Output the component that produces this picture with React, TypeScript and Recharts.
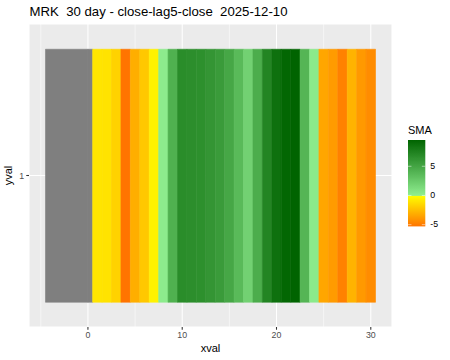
import { BarChart, Bar, XAxis, YAxis, CartesianGrid } from 'recharts'

// tiles: x positions and their SMA value (close - lag5 close)
const xval = [1, 2, 3, 4, 5, 6, 7, 8, 9, 10, 11, 12, 13, 14, 15, 16, 17, 18, 19, 20, 21, 22, 23, 24, 25, 26, 27, 28, 29, 30]
const sma = [-1.0, -1.05, -1.7, -5.3, -3.1, -2.1, -0.5, 0.2, 4.2, 6.7, 6.6, 6.5, 6.1, 5.7, 4.9, 3.6, 2.0, 4.5, 7.2, 8.6, 9.3, 9.5, 3.9, 0.3, -3.4, -3.8, -4.8, -2.9, -3.9, -4.4]
// days with no SMA yet (drawn grey)
const naX = [-4, -3, -2, -1, 0]

const xTicks = [0, 10, 20, 30]
const xMinor = [-5, 5, 15, 25]
const legendTicks = [5, 0, -5]

const FONT = '"Liberation Sans", Arial, sans-serif'
const NA_GREY = '#7F7F7F'

const smaMin = Math.min(...sma)
const smaMax = Math.max(...sma)

const LOW = [255, 116, 0]
const YELLOW = [255, 255, 0]
const LIGHTGREEN = [144, 238, 144]
const DARKGREEN = [0, 100, 0]

function mix(a: number[], b: number[], t: number) {
  const c = a.map((v, i) => Math.round(v + (b[i] - v) * t))
  return `rgb(${c[0]},${c[1]},${c[2]})`
}

function smaColor(v: number) {
  if (v < 0) return mix(YELLOW, LOW, Math.min(1, v / smaMin))
  return mix(LIGHTGREEN, DARKGREEN, Math.min(1, v / smaMax))
}

// one row, stacked tiles of width 1 (grey block split around zero)
const row: Record<string, number | string> = {
  y: '1',
  naNeg: Math.min(...naX) - 0.5,
  naPos: Math.max(...naX) + 0.5,
}
xval.forEach((x) => {
  row[`t${x}`] = 1
})
const chartData = [row]

const xLo = Math.min(...naX) - 0.5
const xHi = Math.max(...xval) + 0.5
const xPad = (xHi - xLo) * 0.05
const xDomain: [number, number] = [xLo - xPad, xHi + xPad]

// minor grid positions, mapped through the x axis domain onto the plot area
function minorLines({ xAxis, offset }: any) {
  const s = xAxis?.scale
  if (typeof s === 'function') return xMinor.map((v) => s(v))
  if (s && typeof s.map === 'function') return xMinor.map((v) => s.map(v))
  return xMinor.map((v) => offset.left + ((v - xDomain[0]) / (xDomain[1] - xDomain[0])) * offset.width)
}

function ColorBar() {
  const top = 140
  const h = 86.4
  const left = 408
  const w = 17.3
  const toY = (v: number) => top + ((smaMax - v) / (smaMax - smaMin)) * h
  const stops = []
  for (let i = 0; i <= 120; i++) {
    const v = smaMax - (i / 120) * (smaMax - smaMin)
    stops.push(<stop key={i} offset={i / 120} stopColor={smaColor(v)} />)
  }
  return (
    <g>
      <defs>
        <linearGradient id="smaGrad" x1="0" y1="0" x2="0" y2="1">
          {stops}
        </linearGradient>
      </defs>
      <text x={left} y={134} fontSize={11} fontFamily={FONT} fill="#000">
        SMA
      </text>
      <rect x={left} y={top} width={w} height={h} fill="url(#smaGrad)" />
      {legendTicks.map((t) => (
        <g key={t}>
          <line x1={left} x2={left + w / 5} y1={toY(t)} y2={toY(t)} stroke="#fff" strokeWidth={0.5} />
          <line x1={left + w - w / 5} x2={left + w} y1={toY(t)} y2={toY(t)} stroke="#fff" strokeWidth={0.5} />
          <text x={left + w + 5} y={toY(t)} dy="0.32em" fontSize={8.8} fontFamily={FONT} fill="#000">
            {t}
          </text>
        </g>
      ))}
    </g>
  )
}

export default function App() {
  return (
    <div style={{ position: 'absolute', left: 0, top: 0, width: 450, height: 360, background: '#fff' }}>
      <BarChart
        width={450}
        height={360}
        data={chartData}
        layout="vertical"
        stackOffset="sign"
        barCategoryGap="8.33%"
        margin={{ top: 24, right: 58, bottom: 0, left: 0 }}
      >
        <CartesianGrid fill="#EBEBEB" fillOpacity={1} stroke="#fff" strokeWidth={1.07} />
        <CartesianGrid
          horizontal={false}
          stroke="#fff"
          strokeWidth={0.53}
          verticalCoordinatesGenerator={minorLines}
        />
        <XAxis
          type="number"
          domain={xDomain}
          allowDataOverflow
          ticks={xTicks}
          interval={0}
          height={33}
          axisLine={false}
          tickSize={2.75}
          tickMargin={2.2}
          tickLine={{ stroke: '#333333', strokeWidth: 1.07 }}
          tick={{ fontSize: 8.8, fill: '#4D4D4D', fontFamily: FONT }}
        />
        <YAxis
          type="category"
          dataKey="y"
          width={29}
          axisLine={false}
          tickSize={2.75}
          tickMargin={2.2}
          tickLine={{ stroke: '#333333', strokeWidth: 1.07 }}
          tick={{ fontSize: 8.8, fill: '#4D4D4D', fontFamily: FONT }}
        />
        <Bar dataKey="naNeg" stackId="tiles" fill={NA_GREY} stroke={NA_GREY} strokeWidth={0.6} isAnimationActive={false} />
        <Bar dataKey="naPos" stackId="tiles" fill={NA_GREY} stroke={NA_GREY} strokeWidth={0.6} isAnimationActive={false} />
        {xval.map((x, i) => (
          <Bar
            key={x}
            dataKey={`t${x}`}
            stackId="tiles"
            fill={smaColor(sma[i])}
            stroke={smaColor(sma[i])}
            strokeWidth={0.6}
            isAnimationActive={false}
          />
        ))}
      </BarChart>
      <svg width={450} height={360} style={{ position: 'absolute', left: 0, top: 0, pointerEvents: 'none' }}>
        <text x={29.5} y={15.7} fontSize={13.2} fontFamily={FONT} fill="#000" style={{ whiteSpace: 'pre' }}>
          {'MRK  30 day - close-lag5-close  2025-12-10'}
        </text>
        <text x={210.5} y={352} textAnchor="middle" fontSize={11} fontFamily={FONT} fill="#000">
          xval
        </text>
        <text x={0} y={0} transform="translate(12,175.5) rotate(-90)" textAnchor="middle" fontSize={11} fontFamily={FONT} fill="#000">
          yval
        </text>
        <ColorBar />
      </svg>
    </div>
  )
}
